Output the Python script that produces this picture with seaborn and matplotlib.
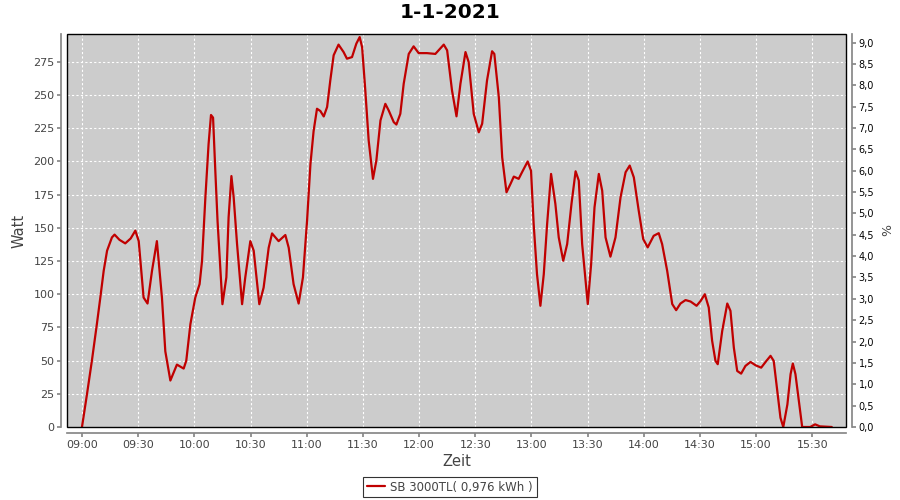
import pandas as pd
import matplotlib
matplotlib.use("Agg")
import matplotlib.pyplot as plt
import matplotlib.dates as mdates
from matplotlib.ticker import MultipleLocator, FuncFormatter
from matplotlib.patches import Rectangle
import seaborn as sns

# Messwerte vom 1-1-2021, Minuten nach 09:00 und Leistung in Watt
minuten = [0, 2.7, 5.3, 8, 9.8, 11.6, 13.4, 16, 17.4, 20, 23.1, 26, 28.5, 30.3, 32.9,
           35, 37.4, 40, 42.7, 44.5, 47.2, 50.7, 54.3, 55.7, 57.9, 60.5, 62.8, 64.1,
           65.9, 67.6, 68.9, 70, 71.2, 72.4, 75, 77.1, 78.3, 79.8, 81, 82.8, 85.5,
           87.2, 89.9, 91.7, 94.7, 97, 99.7, 101.5, 105, 108.6, 110.4, 113, 115.7,
           118, 120.2, 122, 123.7, 125.5, 127.3, 129.1, 130.9, 132.6, 134.4, 137,
           139.7, 141.5, 144.2, 146.5, 148.3, 149.6, 151.3, 153.1, 155.4, 157.2,
           159.4, 162, 163.8, 166.5, 167.9, 170, 171.8, 174.5, 177.1, 179.8, 184.2,
           188.7, 193.2, 195, 197.6, 200, 202.1, 204.8, 206.5, 209.2, 211.9, 213.7,
           216.3, 219, 220.2, 222.6, 224.4, 226.7, 228.8, 230.6, 233.2, 235, 238,
           239.8, 241.2, 243, 244.8, 246.6, 248.4, 250.5, 252.8, 254.6, 257, 259.1,
           261.4, 263.6, 265.3, 267.1, 270.1, 271.9, 273.7, 276, 277.8, 279.6, 282.2,
           284.9, 287.6, 290.3, 292.5, 294.7, 297.3, 299.7, 302.1, 305.3, 308, 309.8,
           312.5, 315.2, 317.3, 319.6, 322.3, 325, 328.2, 330.4, 332.6, 334.7, 336.5,
           338.3, 339.5, 341.9, 344.6, 346.3, 348.1, 349.9, 352, 354.3, 357, 359.7,
           362.7, 365.5, 367.7, 369.4, 371.3, 373, 374.5, 376.7, 378.4, 379.6, 381,
           382.8, 384.6, 388.9, 391.5, 394, 400.4]
watt = [0, 25, 50, 78, 97.5, 117.7, 132.8, 142.8, 144.9, 141, 138.3, 142, 147.9, 140, 97.5,
        93, 117.7, 140, 97.5, 57, 35, 47, 44, 50, 77.5, 97.5, 107.6, 125,
        173, 213, 235, 233, 193, 155, 92.5, 112.7, 158, 189, 173, 138, 92.5,
        112.7, 140, 132.8, 92.5, 105, 135, 145.8, 140, 144.6, 135, 107.6, 93,
        112.7, 155.4, 198, 223, 239.7, 238, 233.9, 241, 261, 280, 288,
        282.4, 277.4, 278.6, 288.7, 293.7, 286, 253.5, 215.8, 186.9, 200.7,
        230.9, 243.4, 238.4, 229.6, 227.8, 235.9, 258.5, 281, 286.7, 281.6, 281.6,
        281, 288, 283.7, 253.5, 234, 258.5, 282.4, 274.8, 235.9, 222, 228.4,
        261, 283, 281, 248.4, 203, 176.8, 183, 188.6, 186.9, 191.9, 200,
        193, 153, 115, 91.3, 115, 153, 190.6, 168, 142.8, 125.2, 137.8,
        168, 192.6, 185.6, 137.8, 92.6, 122.7, 165.4, 190.6, 178, 142.8, 128.3,
        142.8, 173, 191.9, 196.9, 188, 163, 141.6, 135.3, 144, 146, 137.8,
        117.7, 92.6, 88, 93, 95.6, 94.5, 91.3, 95, 100, 90, 65,
        49.8, 47.3, 72.4, 93, 87.5, 59.8, 42.2, 40.2, 46, 49, 46.5,
        44.7, 49.8, 53.6, 49.8, 27.2, 7, 0, 17, 39.8, 47.8, 39.8,
        19.6, 0, 0, 2, 0.5, 0]

titel = "1-1-2021"
serie = "SB 3000TL( 0,976 kWh )"
start = pd.Timestamp("2021-01-01 09:00")

df = pd.DataFrame({
    "zeit": start + pd.to_timedelta(minuten, unit="min"),
    "watt": watt,
})

sns.set_theme(style="white")
plt.rcParams["font.family"] = ["DejaVu Sans"]

grau = "#888888"
text_grau = "#444444"

fig = plt.figure(figsize=(9, 5), dpi=100)
ax = fig.add_axes([67 / 900, 73 / 500, 779 / 900, 393 / 500])
ax.set_facecolor("#cccccc")

sns.lineplot(data=df, x="zeit", y="watt", ax=ax, color="#c00000",
             linewidth=1.6, label=serie, legend=False)

ax.set_xlim(start - pd.Timedelta(minutes=8), start + pd.Timedelta(minutes=408))
ax.set_ylim(0, 296)
ax.yaxis.set_major_locator(MultipleLocator(25))
ax.xaxis.set_major_locator(mdates.MinuteLocator(byminute=[0, 30]))
ax.xaxis.set_major_formatter(mdates.DateFormatter("%H:%M"))
ax.grid(True, color="white", linestyle=(0, (2, 2)), linewidth=0.8)

# Achsenlinien etwas abgesetzt, Rahmen schwarz
for side in ["left", "bottom"]:
    ax.spines[side].set_position(("outward", 4))
    ax.spines[side].set_color(grau)
ax.spines["top"].set_visible(False)
ax.spines["right"].set_visible(False)
ax.add_patch(Rectangle((0, 0), 1, 1, transform=ax.transAxes, fill=False,
                       edgecolor="black", linewidth=1.0, clip_on=False, zorder=5))
ax.tick_params(axis="both", length=3, color=grau, labelcolor=text_grau,
               labelsize=8, left=True, bottom=True, pad=2)

ax.set_xlabel("Zeit", fontsize=10.5, color=text_grau, labelpad=3)
ax.set_ylabel("Watt", fontsize=10.5, color=text_grau, labelpad=5)

# rechte Achse in Prozent
ax2 = ax.twinx()
ax2.set_ylim(0, 9.2)
ax2.yaxis.set_major_locator(MultipleLocator(0.5))
ax2.yaxis.set_major_formatter(FuncFormatter(lambda v, p: f"{v:.1f}".replace(".", ",")))
for side in ["left", "top", "bottom"]:
    ax2.spines[side].set_visible(False)
ax2.spines["right"].set_position(("outward", 4))
ax2.spines["right"].set_color(grau)
ax2.tick_params(axis="y", length=3, color=grau, labelcolor="black", labelsize=7, right=True, pad=2)
ax2.set_ylabel("%", fontsize=9, color=text_grau, labelpad=5)
ax2.grid(False)

fig.text(0.5, 1 - 13 / 500, titel, ha="center", va="center",
         fontsize=14.5, fontweight="bold", color="black")

handles, labels = ax.get_legend_handles_labels()
leg = fig.legend(handles, labels, loc="center", bbox_to_anchor=(0.5, 1 - 487 / 500),
                 frameon=True, fancybox=False, edgecolor="black", fontsize=8.5,
                 handlelength=1.5, borderpad=0.3, handletextpad=0.5)
leg.get_frame().set_linewidth(0.8)
for t in leg.get_texts():
    t.set_color(text_grau)

fig.savefig("out.png", dpi=100)
